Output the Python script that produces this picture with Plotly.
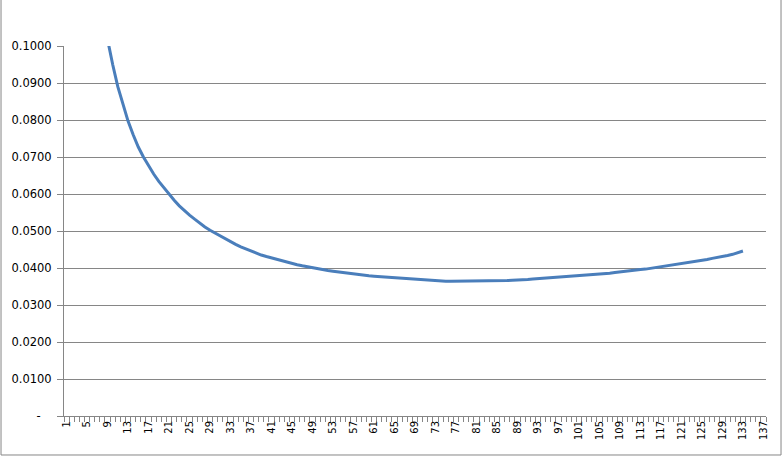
import plotly.graph_objects as go

# Category positions 1..137 (labels every 4th category)
categories = list(range(1, 138))
tick_labels = [str(k) for k in range(1, 138, 4)]

# Series values for categories 1..133 (values above 0.1000 are clipped by the axis)
values = [
    0.5200, 0.3500, 0.2400, 0.1900, 0.1550, 0.1330, 0.1180, 0.1085, 0.1015, 0.0950,
    0.0890, 0.0840, 0.0797, 0.0760, 0.0727, 0.0700, 0.0676, 0.0654, 0.0634, 0.0616,
    0.0599, 0.0583, 0.0568, 0.0555, 0.0543, 0.0532, 0.0521, 0.0511, 0.0502, 0.0494,
    0.0486, 0.0478, 0.0471, 0.0464, 0.0457, 0.0451, 0.0446, 0.0440, 0.0435, 0.0431,
    0.0427, 0.0424, 0.0420, 0.0416, 0.0412, 0.0409, 0.0406, 0.0403, 0.0401, 0.0398,
    0.0395, 0.0393, 0.0391, 0.0389, 0.0387, 0.0385, 0.0384, 0.0382, 0.0380, 0.0379,
    0.0378, 0.0377, 0.0375, 0.0374, 0.0372, 0.0371, 0.0370, 0.0369, 0.0368, 0.0367,
    0.0366, 0.0366, 0.0365, 0.0365, 0.0364, 0.0364, 0.0364, 0.0364, 0.0364, 0.0364,
    0.0364, 0.0364, 0.0364, 0.0364, 0.0364, 0.0365, 0.0366, 0.0367, 0.0367, 0.0368,
    0.0369, 0.0370, 0.0371, 0.0372, 0.0373, 0.0374, 0.0375, 0.0376, 0.0377, 0.0378,
    0.0378, 0.0379, 0.0380, 0.0381, 0.0383, 0.0384, 0.0386, 0.0388, 0.0390, 0.0391,
    0.0393, 0.0394, 0.0396, 0.0397, 0.0399, 0.0401, 0.0403, 0.0405, 0.0408, 0.0410,
    0.0412, 0.0414, 0.0417, 0.0419, 0.0421, 0.0423, 0.0426, 0.0428, 0.0431, 0.0434,
    0.0437, 0.0441, 0.0446,
]

y_tickvals = [0.0, 0.01, 0.02, 0.03, 0.04, 0.05, 0.06, 0.07, 0.08, 0.09, 0.10]
y_ticktext = ["-\u00a0\u00a0\u00a0", "0.0100", "0.0200", "0.0300", "0.0400", "0.0500",
              "0.0600", "0.0700", "0.0800", "0.0900", "0.1000"]

GRID = "#868686"
LINE = "#4A7EBB"

fig = go.Figure()
fig.add_trace(go.Scatter(
    x=categories[:len(values)], y=values, mode="lines",
    line=dict(color=LINE, width=3), showlegend=False, hoverinfo="x+y",
))

fig.update_layout(
    width=784, height=461,
    margin=dict(l=64, r=18, t=46, b=45, autoexpand=False),
    paper_bgcolor="white", plot_bgcolor="white",
    font=dict(family="DejaVu Sans", size=11, color="#000000"),
    showlegend=False,
    shapes=[dict(type="rect", xref="paper", yref="paper",
                 x0=-0.0897, x1=1.0214, y0=-0.1054, y1=1.13,
                 line=dict(color=GRID, width=1), fillcolor="rgba(0,0,0,0)",
                 layer="below")],
)

fig.update_xaxes(
    range=[0.5, 137.5], tickmode="array", automargin=False,
    tickvals=list(range(1, 138, 4)), ticktext=tick_labels,
    tickangle=-90, tickfont=dict(size=10, family="DejaVu Sans"),
    ticks="", showgrid=False, zeroline=False,
    showline=True, linecolor=GRID, linewidth=1,
    minor=dict(ticks="outside", ticklen=5, tickcolor=GRID, tickwidth=1,
               tick0=0.5, dtick=1, showgrid=False),
)

fig.update_yaxes(
    range=[0, 0.1], tickmode="array", tickvals=y_tickvals, ticktext=y_ticktext,
    automargin=False, ticklabelstandoff=3,
    ticks="outside", ticklen=6, tickcolor=GRID, tickwidth=1,
    showgrid=True, gridcolor=GRID, gridwidth=1, zeroline=False,
    showline=True, linecolor=GRID, linewidth=1,
    tickfont=dict(size=11.5, family="DejaVu Sans"),
)

fig.write_html(
    "out.html",
    config={"displayModeBar": False},
    post_script="document.body.style.margin='0';document.body.style.overflow='hidden';",
)
